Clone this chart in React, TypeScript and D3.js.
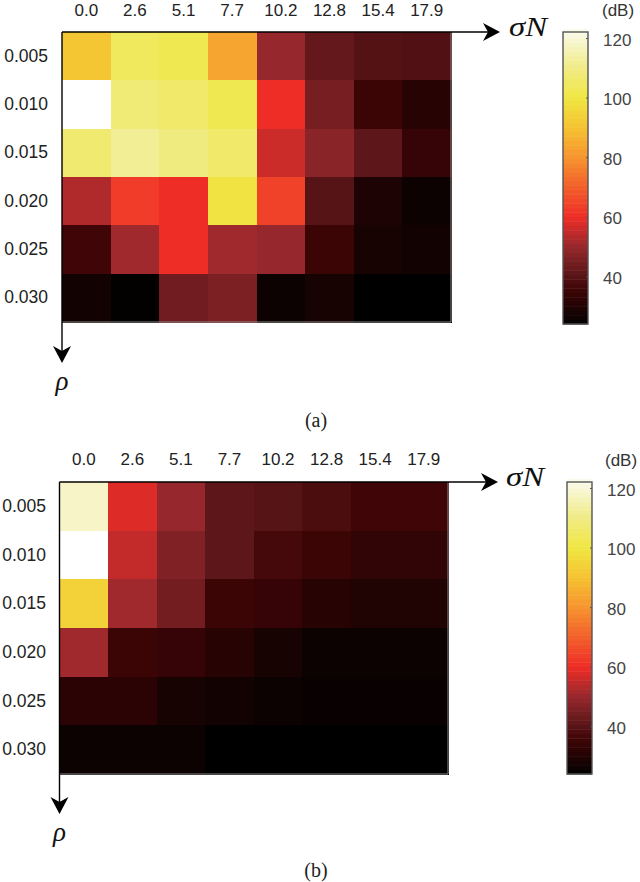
import React, { useRef, useEffect } from 'react'
import * as d3 from 'd3'

const sigmaN = ['0.0', '2.6', '5.1', '7.7', '10.2', '12.8', '15.4', '17.9']
const rho = ['0.005', '0.010', '0.015', '0.020', '0.025', '0.030']

const valuesA = [
  [91, 104, 102, 84, 50, 42, 39.5, 39],
  [124, 108, 106, 102, 60, 45, 35, 31],
  [107, 112, 109, 106, 56, 48, 41, 34],
  [53, 63, 60, 99, 64, 40, 29, 26],
  [36, 51, 60, 51, 50, 35, 28, 27],
  [27, 24.5, 44, 46, 26, 28, 24, 24],
]

const valuesB = [
  [118, 58, 50, 41, 40, 38, 36, 36],
  [124, 55, 46.5, 41, 37, 35, 33, 33],
  [94, 51, 44.5, 35, 34, 31, 29.5, 29.5],
  [51, 35, 34, 31, 28, 26, 26, 26],
  [32, 32, 28, 27, 26, 25.5, 25.5, 25.5],
  [26, 26, 26, 24, 24, 24, 24, 24],
]

const barTicks = [120, 100, 80, 60, 40]
const colorStops = [24, 28, 32, 36, 40, 50, 60, 70, 80, 90, 100, 110, 122, 124]
const colorValues = ['#000000', '#180303', '#2c0304', '#400507', '#571417', '#96282d', '#ef2d27', '#f2602b', '#f7942f', '#f5c232', '#f0e743', '#f0eb84', '#fafae8', '#ffffff']

const color = d3.scaleLinear<string>().domain(colorStops).range(colorValues).clamp(true)

const TICK_FONT = '"Liberation Sans", Arial, sans-serif'
const MATH_FONT = '"Liberation Serif", "Times New Roman", serif'

function drawPanel(
  svg: d3.Selection<SVGSVGElement, unknown, null, undefined>,
  values: number[][],
  p: { left: number; right: number; top: number; bottom: number; xTip: number; yTip: number; barX: number; barTop: number; barBottom: number; caption: string; captionY: number; sigmaX: number; rowEnd: number; colY: number; dbX: number; dbY: number }
) {
  const g = svg.append('g')
  const x = d3.scaleBand().domain(sigmaN).range([p.left, p.right])
  const y = d3.scaleBand().domain(rho).range([p.top, p.bottom])

  // Cells
  rho.forEach((r, i) => {
    g.append('g').selectAll('rect')
      .data(values[i])
      .join('rect')
      .attr('x', (_, j) => x(sigmaN[j])!)
      .attr('y', y(r)!)
      .attr('width', x.bandwidth() + 0.5)
      .attr('height', y.bandwidth() + 0.5)
      .attr('fill', d => color(d))
      .attr('shape-rendering', 'crispEdges')
  })

  // Thin frame on the right and bottom
  g.append('path')
    .attr('d', `M${p.right},${p.top}V${p.bottom}H${p.left}`)
    .attr('fill', 'none').attr('stroke', '#8a8a8a').attr('stroke-width', 1)

  // Axis lines with arrow heads
  g.append('line')
    .attr('x1', p.left).attr('x2', p.xTip - 8)
    .attr('y1', p.top).attr('y2', p.top)
    .attr('stroke', '#000').attr('stroke-width', 1.4)
  g.append('line')
    .attr('x1', p.left).attr('x2', p.left)
    .attr('y1', p.top).attr('y2', p.yTip - 8)
    .attr('stroke', '#000').attr('stroke-width', 1.4)
  g.append('path')
    .attr('d', `M${p.xTip},${p.top}L${p.xTip - 17},${p.top - 9}L${p.xTip - 12},${p.top}L${p.xTip - 17},${p.top + 9}Z`)
    .attr('fill', '#000')
  g.append('path')
    .attr('d', `M${p.left},${p.yTip}L${p.left - 9},${p.yTip - 17}L${p.left},${p.yTip - 12}L${p.left + 9},${p.yTip - 17}Z`)
    .attr('fill', '#000')

  // Tick labels
  g.append('g').selectAll('text')
    .data(sigmaN)
    .join('text')
    .attr('x', d => x(d)! + x.bandwidth() / 2)
    .attr('y', p.colY)
    .attr('text-anchor', 'middle')
    .attr('font-family', TICK_FONT).attr('font-size', 17).attr('fill', '#222')
    .text(d => d)
  g.append('g').selectAll('text')
    .data(rho)
    .join('text')
    .attr('x', p.rowEnd)
    .attr('y', d => y(d)! + y.bandwidth() / 2 + 5.5)
    .attr('text-anchor', 'end')
    .attr('font-family', TICK_FONT).attr('font-size', 17.5).attr('fill', '#222')
    .text(d => d)

  // Axis names
  g.append('text')
    .attr('x', p.sigmaX).attr('y', p.top + 4)
    .attr('font-family', MATH_FONT).attr('font-size', 28).attr('font-style', 'italic').attr('fill', '#111')
    .attr('textLength', 38).attr('lengthAdjust', 'spacingAndGlyphs')
    .text('σN')
  g.append('text')
    .attr('x', p.left).attr('y', p.yTip + 27)
    .attr('text-anchor', 'middle')
    .attr('font-family', MATH_FONT).attr('font-size', 27).attr('font-style', 'italic').attr('fill', '#111')
    .text('ρ')
  g.append('text')
    .attr('x', 316).attr('y', p.captionY)
    .attr('text-anchor', 'middle')
    .attr('font-family', MATH_FONT).attr('font-size', 20).attr('fill', '#222')
    .text(p.caption)

  // Colour bar
  const barWidth = 25
  const barY = d3.scaleLinear().domain([24, 122]).range([p.barBottom, p.barTop])
  const bands = d3.range(24, 122, 1.5)
  g.append('g').selectAll('rect')
    .data(bands)
    .join('rect')
    .attr('x', p.barX)
    .attr('y', d => barY(d + 1.5))
    .attr('width', barWidth)
    .attr('height', d => barY(d) - barY(d + 1.5) + 0.5)
    .attr('fill', d => color(d + 0.75))
  g.append('rect')
    .attr('x', p.barX).attr('y', p.barTop)
    .attr('width', barWidth).attr('height', p.barBottom - p.barTop)
    .attr('fill', 'none').attr('stroke', '#555').attr('stroke-width', 1.4)

  const axis = g.append('g')
    .attr('transform', `translate(${p.barX + barWidth},0)`)
    .call(d3.axisRight(barY).tickValues(barTicks).tickSize(-2).tickPadding(15).tickFormat(d3.format('d')))
  axis.select('.domain').remove()
  axis.selectAll('line').attr('stroke', '#555')
  axis.selectAll('text')
    .attr('fill', '#444').attr('font-size', 17).attr('font-family', TICK_FONT)
    .attr('dy', '0.42em')

  g.append('text')
    .attr('x', p.dbX).attr('y', p.dbY)
    .attr('font-family', TICK_FONT).attr('font-size', 17).attr('fill', '#333')
    .text('(dB)')
}

export default function App() {
  const svgRef = useRef<SVGSVGElement>(null)

  useEffect(() => {
    if (!svgRef.current) return
    const svg = d3.select(svgRef.current)
    svg.selectAll('*').remove()

    drawPanel(svg, valuesA, {
      left: 62, right: 451, top: 32, bottom: 322, xTip: 500, yTip: 363,
      barX: 563, barTop: 32, barBottom: 324, caption: '(a)', captionY: 427,
      sigmaX: 509, rowEnd: 48, colY: 16, dbX: 602, dbY: 16,
    })
    drawPanel(svg, valuesB, {
      left: 59.5, right: 448, top: 482, bottom: 774, xTip: 498, yTip: 814,
      barX: 567, barTop: 482, barBottom: 774, caption: '(b)', captionY: 877,
      sigmaX: 506, rowEnd: 46, colY: 465, dbX: 605, dbY: 466,
    })
  }, [])

  return (
    <svg
      ref={svgRef}
      width={640}
      height={882}
      style={{ position: 'absolute', left: 0, top: 0, background: '#fff' }}
    />
  )
}
